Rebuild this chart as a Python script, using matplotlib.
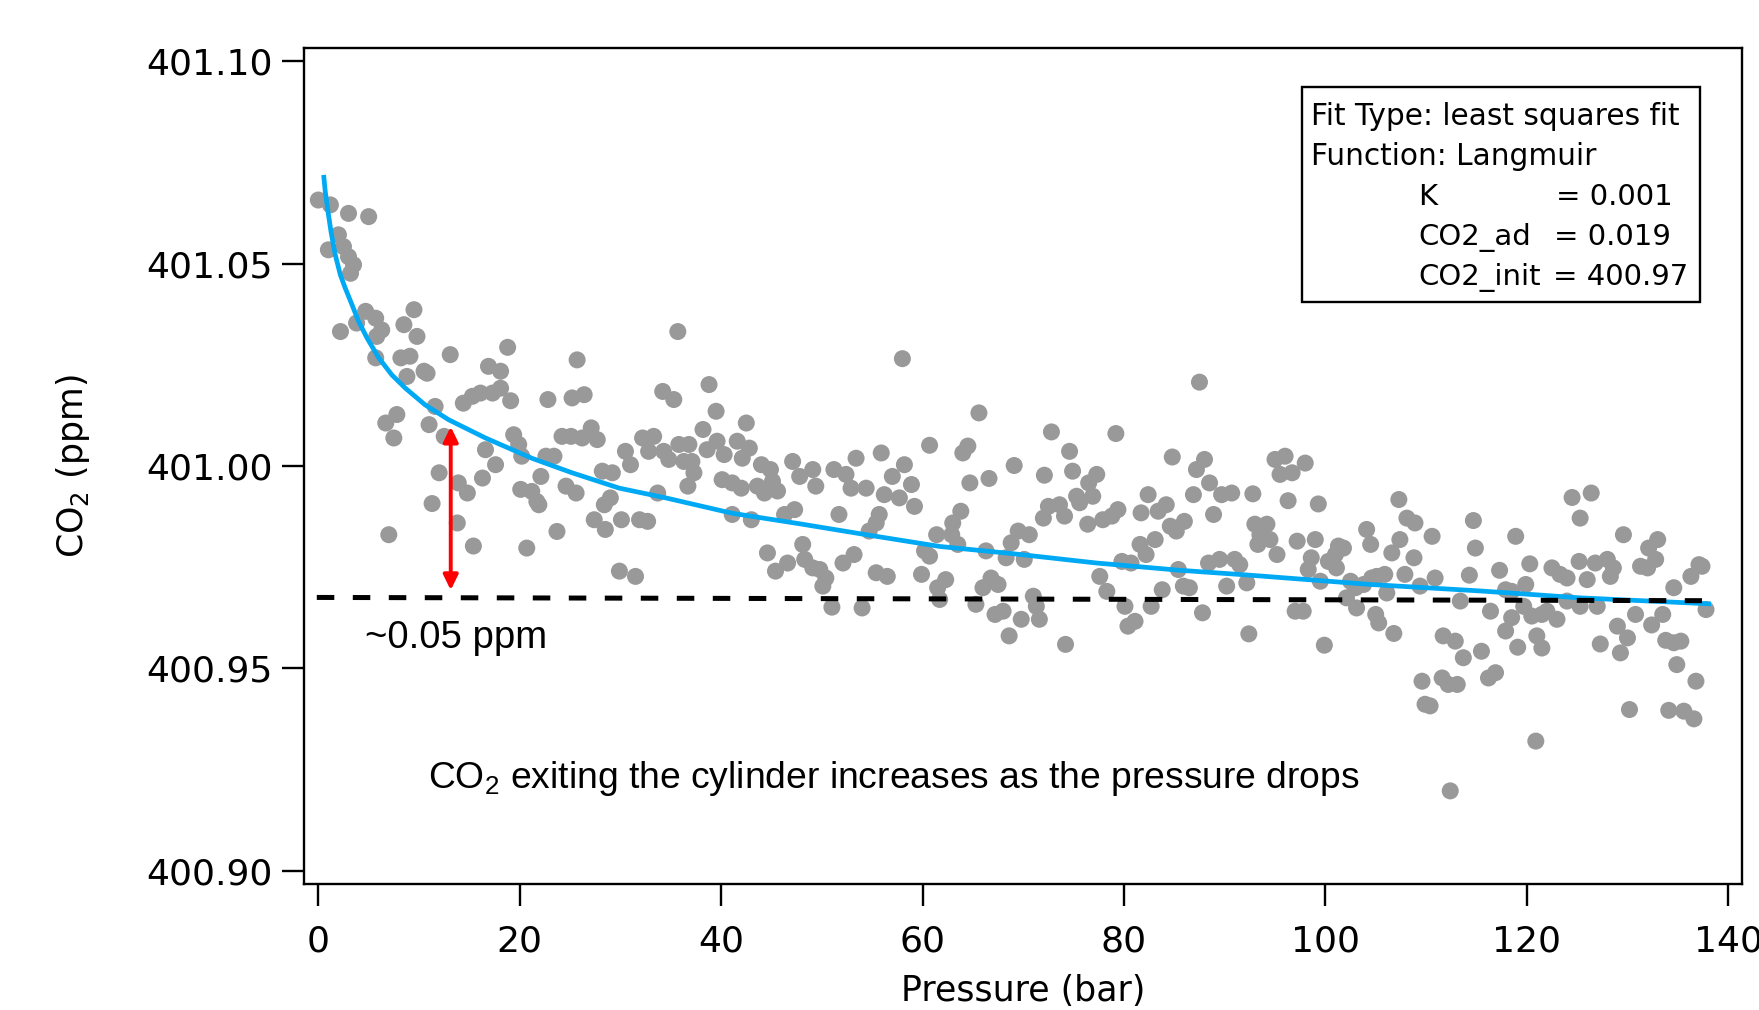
import matplotlib
matplotlib.use("Agg")
import matplotlib.pyplot as plt
from matplotlib.patches import Rectangle
from matplotlib.ticker import FormatStrFormatter

pressure = [
    0.0, 1.2, 3.0, 5.0, 2.0, 1.0, 2.5, 3.0, 3.5, 3.2, 2.2, 4.7, 3.8, 5.7, 6.3, 5.8,
    8.5, 9.5, 9.8, 5.7, 8.2, 9.1, 8.8, 10.5, 10.8, 13.1, 6.7, 7.8, 7.5, 7.0, 11.0,
    11.6, 12.5, 12.0, 11.3, 13.9, 14.8, 13.8, 15.4, 14.4, 15.3, 16.1, 17.3, 18.1,
    16.9, 18.1, 18.8, 19.1, 16.6, 17.6, 16.3, 19.4, 19.9, 20.2, 20.1, 21.2, 21.7,
    21.9, 20.7, 22.8, 25.7, 25.2, 26.4, 24.2, 25.1, 26.2, 27.1, 27.7, 22.1, 22.6,
    23.4, 24.6, 25.6, 28.2, 29.2, 28.4, 29.0, 27.4, 28.5, 23.7, 29.9,
    30.1, 31.5, 30.5, 31.0, 31.9, 32.7, 33.7, 32.2, 33.3, 32.8, 34.3, 34.8, 34.2,
    35.3, 35.7, 35.8, 36.8, 36.3, 37.1, 37.3, 36.7, 38.2, 38.8, 39.5, 38.6, 39.6,
    40.3, 40.1, 41.1, 42.0, 41.1, 41.6, 42.8, 42.1, 42.5, 43.0, 44.0, 44.9, 43.6,
    44.3, 45.6, 45.1, 44.6, 45.4, 46.6, 48.1, 48.3, 49.1, 49.8, 50.4, 50.1, 46.3,
    47.3, 47.1, 47.8, 49.1, 49.4, 51.0, 51.2, 52.4, 52.9, 53.4, 54.4, 51.7, 52.1,
    53.2, 54.0, 54.7, 55.4, 55.7, 55.4, 56.5, 55.9, 56.2, 57.0, 57.7, 58.9, 59.2,
    58.2, 58.0, 59.9, 60.2, 60.7, 60.7, 61.4, 61.5,
    62.3, 61.7, 63.0, 63.8, 62.9, 63.5, 64.0, 64.5, 64.7, 65.6, 65.3, 66.0, 66.8,
    67.5, 66.6, 66.3, 67.2, 68.0, 68.6, 68.3, 68.8, 69.5, 70.1, 70.6, 69.1, 69.8,
    71.0, 71.3, 71.6, 72.1, 72.8, 72.0, 72.5, 73.6, 74.1, 74.2, 74.6, 74.9, 75.3,
    75.6, 76.4, 76.5, 77.3, 76.9, 77.6, 78.3, 77.9, 78.8, 79.4, 79.2, 79.8, 80.7,
    80.1, 80.4, 81.1, 81.7, 82.4, 83.4, 84.2, 81.6, 82.2, 83.1, 82.7, 83.8, 84.6,
    85.2, 86.0, 84.8, 85.4, 85.9, 86.5, 86.9, 87.2, 88.0, 87.5, 87.8, 88.5, 89.7,
    90.7, 88.9, 88.4, 89.5, 91.0, 91.5, 90.2, 92.2, 92.4, 92.8, 93.0, 93.3,
    94.2, 93.5, 94.5, 95.2, 95.0, 96.0, 95.5, 96.7, 98.0, 96.3, 99.3, 97.2, 99.0,
    98.6, 98.3, 99.5, 97.0, 97.8, 99.9, 100.3, 101.0, 101.3, 101.8, 101.1, 102.1,
    102.5, 103.0, 103.8, 104.6, 103.1, 104.1, 104.5, 105.0, 105.3, 105.1, 105.9,
    106.1, 106.6, 107.4, 107.3, 106.8, 107.9, 108.8, 108.1, 108.9, 109.4, 110.6,
    109.6, 109.9, 110.4, 110.9, 111.6, 112.2, 113.1, 111.7, 112.9, 113.7, 113.4,
    114.3, 114.7, 114.9, 115.5, 116.2, 116.9, 116.4, 112.4,
    117.3, 117.9, 118.5, 118.5, 117.9, 118.9, 119.1, 119.9, 119.7, 120.5, 121.5,
    122.0, 123.0, 120.3, 121.0, 121.5, 120.9, 122.5, 123.3, 124.0, 124.5, 126.4,
    125.3, 124.0, 125.3, 127.0, 125.2, 126.0, 126.8, 128.0, 128.6, 128.3, 127.3,
    129.0, 130.0, 129.3, 129.6, 130.2, 130.8, 131.3, 132.0, 132.1, 133.0, 132.8,
    132.4, 133.5, 133.8, 134.6, 135.3, 134.6, 134.9, 136.8, 134.1, 135.6, 136.6,
    136.3, 137.1, 137.4, 137.8,
]
co2 = [
    401.0657, 401.0645, 401.0624, 401.0616, 401.0571, 401.0534, 401.0542, 401.0517,
    401.0497, 401.0476, 401.0332, 401.0382, 401.0353, 401.0365, 401.0336, 401.0320,
    401.0349, 401.0386, 401.0320, 401.0267, 401.0267, 401.0271, 401.0221, 401.0234,
    401.0229, 401.0275, 401.0106, 401.0127, 401.0069, 400.9830, 401.0102, 401.0147,
    401.0073, 400.9983, 400.9907, 400.9958, 400.9933, 400.9859, 400.9802, 401.0155,
    401.0172, 401.0180, 401.0180, 401.0192, 401.0246, 401.0234, 401.0293, 401.0161,
    401.0040, 401.0003, 400.9970, 401.0077, 401.0053, 401.0024, 400.9942, 400.9937,
    400.9912, 400.9904, 400.9797, 401.0164, 401.0262, 401.0168, 401.0176, 401.0073,
    401.0073, 401.0069, 401.0094, 401.0065, 400.9974, 401.0024, 401.0024, 400.9950,
    400.9933, 400.9987, 400.9983, 400.9904, 400.9921, 400.9867, 400.9843, 400.9838,
    400.9740,
    400.9867, 400.9727, 401.0036, 401.0003, 400.9867, 400.9863, 400.9933, 401.0069,
    401.0073, 401.0036, 401.0036, 401.0016, 401.0184, 401.0164, 401.0332, 401.0053,
    401.0053, 401.0011, 401.0011, 400.9983, 400.9950, 401.0090, 401.0201, 401.0135,
    401.0040, 401.0061, 401.0028, 400.9966, 400.9958, 400.9945, 400.9880, 401.0061,
    401.0044, 401.0019, 401.0106, 400.9867, 401.0003, 400.9991, 400.9950, 400.9933,
    400.9938, 400.9962, 400.9785, 400.9740, 400.9760, 400.9806, 400.9769, 400.9748,
    400.9744, 400.9723, 400.9703, 400.9880, 400.9892, 401.0011, 400.9974, 400.9991,
    400.9950, 400.9651, 400.9991, 400.9979, 400.9945, 401.0019, 400.9945, 400.9880,
    400.9760, 400.9781, 400.9649, 400.9839, 400.9859, 400.9880, 400.9736, 400.9727,
    401.0032, 400.9929, 400.9974, 400.9921, 400.9954, 400.9900, 401.0003, 401.0265,
    400.9732, 400.9790, 400.9777, 401.0051, 400.9830, 400.9699,
    400.9719, 400.9670, 400.9859, 400.9888, 400.9830, 400.9806, 401.0032, 401.0049,
    400.9958, 401.0131, 400.9658, 400.9699, 400.9723, 400.9707, 400.9969, 400.9790,
    400.9633, 400.9641, 400.9580, 400.9773, 400.9810, 400.9839, 400.9769, 400.9830,
    401.0001, 400.9621, 400.9678, 400.9653, 400.9621, 400.9977, 401.0084, 400.9871,
    400.9900, 400.9904, 400.9876, 400.9559, 401.0036, 400.9987, 400.9925, 400.9909,
    400.9856, 400.9958, 400.9979, 400.9925, 400.9727, 400.9690, 400.9867, 400.9876,
    400.9892, 401.0080, 400.9764, 400.9760, 400.9653, 400.9604, 400.9616, 400.9884,
    400.9929, 400.9888, 400.9904, 400.9806, 400.9781, 400.9818, 400.9653, 400.9694,
    400.9851, 400.9839, 400.9863, 401.0022, 400.9744, 400.9703, 400.9699, 400.9929,
    400.9991, 401.0016, 401.0207, 400.9637, 400.9958, 400.9929, 400.9933, 400.9880,
    400.9760, 400.9769, 400.9769, 400.9756, 400.9703, 400.9711, 400.9585, 400.9931,
    400.9856, 400.9806,
    400.9856, 400.9830, 400.9818, 400.9781, 401.0016, 401.0024, 400.9979, 400.9983,
    401.0007, 400.9914, 400.9906, 400.9814, 400.9818, 400.9773, 400.9744, 400.9715,
    400.9641, 400.9641, 400.9557, 400.9764, 400.9781, 400.9802, 400.9797, 400.9748,
    400.9674, 400.9715, 400.9699, 400.9707, 400.9723, 400.9649, 400.9843, 400.9806,
    400.9633, 400.9612, 400.9727, 400.9732, 400.9686, 400.9785, 400.9818, 400.9917,
    400.9586, 400.9732, 400.9773, 400.9871, 400.9859, 400.9703, 400.9826, 400.9468,
    400.9411, 400.9407, 400.9723, 400.9476, 400.9460, 400.9460, 400.9580, 400.9567,
    400.9526, 400.9666, 400.9730, 400.9865, 400.9797, 400.9542, 400.9476, 400.9489,
    400.9641, 400.9197,
    400.9742, 400.9694, 400.9690, 400.9625, 400.9592, 400.9826, 400.9552, 400.9707,
    400.9653, 400.9629, 400.9633, 400.9641, 400.9621, 400.9758, 400.9580, 400.9550,
    400.9320, 400.9748, 400.9732, 400.9723, 400.9922, 400.9933, 400.9871, 400.9666,
    400.9653, 400.9653, 400.9764, 400.9719, 400.9760, 400.9769, 400.9748, 400.9727,
    400.9560, 400.9604, 400.9575, 400.9538, 400.9830, 400.9398, 400.9633, 400.9752,
    400.9748, 400.9797, 400.9818, 400.9769, 400.9607, 400.9633, 400.9569, 400.9563,
    400.9567, 400.9699, 400.9509, 400.9468, 400.9396, 400.9394, 400.9375, 400.9727,
    400.9756, 400.9752, 400.9645,
]

# Langmuir fit curve
fit_pressure = [0.53, 0.69, 0.96, 1.26, 1.68, 2.19, 2.68, 3.35, 4.0, 4.84, 6.0, 7.3,
                8.65, 10.6, 12.95, 16.6, 21.2, 25.2, 29.9, 34.5, 41.1, 47.8, 54.4,
                61.7, 69.0, 77.3, 85.6, 92.5, 104.5, 115.4, 125.3, 138.3]
fit_co2 = [401.0719, 401.0678, 401.0629, 401.0579, 401.0522, 401.0472, 401.0439,
           401.0398, 401.0357, 401.0316, 401.0267, 401.0225, 401.0192, 401.0151,
           401.0114, 401.0069, 401.0019, 400.9983, 400.9945, 400.9921, 400.9883,
           400.9857, 400.9830, 400.9801, 400.9783, 400.9760, 400.9742, 400.9730,
           400.9707, 400.9691, 400.9674, 400.9659]

# dashed reference level and the ~0.05 ppm arrow
base_pressure = [-0.15, 137.4]
base_co2 = [400.9675, 400.9667]
arrow_pressure = 13.15
arrow_top = 401.0097
arrow_bottom = 400.9693

x_ticks = [0, 20, 40, 60, 80, 100, 120, 140]
y_ticks = [400.90, 400.95, 401.00, 401.05, 401.10]

fit_lines = ["Fit Type: least squares fit", "Function: Langmuir"]
param_names = ["K", "CO2_ad", "CO2_init"]
param_values = ["= 0.001", "= 0.019", "= 400.97"]

plt.rcParams["font.family"] = "DejaVu Sans"
plt.rcParams["axes.linewidth"] = 1.7

fig = plt.figure(figsize=(17.59, 10.10), dpi=100)
ax = fig.add_axes([0.173, 0.1248, 0.8172, 0.8274])

ax.scatter(pressure, co2, s=150, color="#999999", edgecolors="none", zorder=2)
ax.plot(fit_pressure, fit_co2, color="#00A9F4", linewidth=3.4,
        solid_capstyle="butt", zorder=3)
ax.plot(base_pressure, base_co2, color="black", linewidth=3.6,
        dashes=(3.5, 3.7), zorder=4)

ax.annotate("", xy=(arrow_pressure, arrow_bottom), xytext=(arrow_pressure, arrow_top),
            arrowprops=dict(arrowstyle="<|-|>,head_length=0.45,head_width=0.22",
                            color="#FF0000", lw=2.8, mutation_scale=20,
                            shrinkA=0, shrinkB=0),
            zorder=5)

ax.text(4.64, 400.9549, "~0.05 ppm", fontsize=27.5, family="Liberation Sans",
        va="baseline", ha="left")
ax.text(10.92, 400.9204, r"CO$_\mathregular{2}$ exiting the cylinder increases as the pressure drops",
        fontsize=26.8, family="Liberation Sans", va="baseline", ha="left")

ax.set_xlim(-1.39, 141.35)
ax.set_ylim(400.8967, 401.1032)
ax.set_xticks(x_ticks)
ax.set_yticks(y_ticks)
ax.yaxis.set_major_formatter(FormatStrFormatter("%.2f"))
ax.tick_params(axis="both", direction="out", length=15.5, width=1.7,
               labelsize=26)
ax.tick_params(axis="x", pad=14)
ax.tick_params(axis="y", pad=7)

ax.set_xlabel("Pressure (bar)", fontsize=25)
ax.xaxis.set_label_coords(0.5, -0.108)
ax.set_ylabel(r"CO$_\mathregular{2}$ (ppm)", fontsize=25)
ax.yaxis.set_label_coords(-0.148, 0.5)

# fit results box
ax.add_patch(Rectangle((0.6939, 0.6968), 0.2771, 0.2573, transform=ax.transAxes,
                       facecolor="white", edgecolor="black", linewidth=1.7, zorder=6))
line_y = [0.9082, 0.8604, 0.8125, 0.7647, 0.7168]
for i, line in enumerate(fit_lines):
    ax.text(0.7002, line_y[i], line, transform=ax.transAxes, fontsize=21.3,
            va="baseline", ha="left", zorder=7)
value_x = [0.8708, 0.8692, 0.8685]
for i, name in enumerate(param_names):
    ax.text(0.775, line_y[i + 2], name, transform=ax.transAxes, fontsize=21,
            va="baseline", ha="left", zorder=7)
    ax.text(value_x[i], line_y[i + 2], param_values[i], transform=ax.transAxes,
            fontsize=21, va="baseline", ha="left", zorder=7)

fig.savefig("out.png", dpi=100)
